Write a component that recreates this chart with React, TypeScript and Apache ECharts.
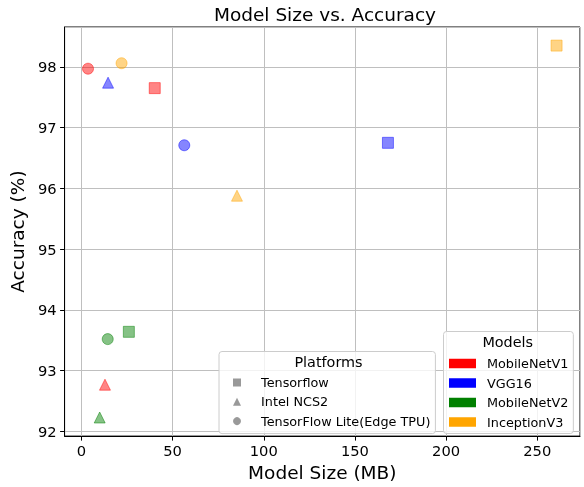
import React, { useEffect, useRef } from "react";
import * as echarts from "echarts";

const models = ["MobileNetV1", "VGG16", "MobileNetV2", "InceptionV3"];
const modelColors = ["255,0,0", "0,0,255", "0,128,0", "255,165,0"];
const modelLegendColors = ["#ff0000", "#0000ff", "#008000", "#ffa500"];
const platforms = ["Tensorflow", "Intel NCS2", "TensorFlow Lite(Edge TPU)"];
const platformSymbols = ["rect", "triangle", "circle"];

// [Tensorflow, Intel NCS2, TensorFlow Lite] per model
const sizeMB = [
  [40.2, 12.9, 3.6],
  [168.1, 14.6, 56.4],
  [26.0, 10.0, 14.4],
  [260.6, 85.3, 22.0],
];
const accuracy = [
  [97.65, 92.77, 97.97],
  [96.75, 97.74, 96.71],
  [93.64, 92.23, 93.52],
  [98.35, 95.88, 98.06],
];

const FONT = "DejaVu Sans";

export default function App() {
  const ref = useRef<HTMLDivElement>(null);
  useEffect(() => {
    if (!ref.current) return;
    const chart = echarts.init(ref.current, null, { renderer: "svg" });

    const modelSeries = models.map((m, i) => ({
      name: m,
      type: "scatter",
      symbolSize: 11,
      itemStyle: {
        color: `rgba(${modelColors[i]},0.6)`,
        borderColor: `rgba(${modelColors[i]},0.6)`,
        borderWidth: 1,
      },
      data: platforms.map((p, j) => ({
        value: [sizeMB[i][j], accuracy[i][j]],
        symbol: platformSymbols[j],
      })),
      z: 3,
    }));
    const platformSeries = platforms.map((p, j) => ({
      name: p,
      type: "scatter",
      symbol: platformSymbols[j],
      itemStyle: { color: "#808080" },
      data: [],
    }));

    chart.setOption({
      animation: false,
      textStyle: { fontFamily: FONT },
      title: {
        text: "Model Size vs. Accuracy",
        left: 320,
        textAlign: "center",
        top: 0,
        textStyle: { fontFamily: FONT, fontSize: 18.5, fontWeight: "normal", color: "#000" },
      },
      grid: {
        left: 61.5,
        right: 4,
        top: 27,
        bottom: 46.6,
        show: true,
        borderColor: "#000",
        borderWidth: 1,
        backgroundColor: "transparent",
      },
      xAxis: {
        type: "value",
        min: -9.25,
        max: 273.45,
        minInterval: 50,
        maxInterval: 50,
        name: "Model Size (MB)",
        nameLocation: "middle",
        nameGap: 22,
        nameTextStyle: { fontFamily: FONT, fontSize: 18.5, color: "#000" },
        axisLine: { onZero: false, lineStyle: { color: "#000", width: 1 } },
        axisTick: { show: true, length: 4.5, lineStyle: { color: "#000" } },
        axisLabel: {
          showMinLabel: false,
          showMaxLabel: false,
          margin: 7,
          fontFamily: FONT,
          fontSize: 14.7,
          color: "#000",
        },
        splitLine: { show: true, lineStyle: { color: "#bfbfbf", width: 1 } },
      },
      yAxis: {
        type: "value",
        min: 91.924,
        max: 98.656,
        minInterval: 1,
        maxInterval: 1,
        name: "Accuracy (%)",
        nameLocation: "middle",
        nameGap: 24,
        nameTextStyle: { fontFamily: FONT, fontSize: 18.5, color: "#000" },
        axisLine: { show: true, onZero: false, lineStyle: { color: "#000", width: 1 } },
        axisTick: { show: true, length: 4.5, lineStyle: { color: "#000" } },
        axisLabel: {
          showMinLabel: false,
          showMaxLabel: false,
          margin: 8,
          fontFamily: FONT,
          fontSize: 14.7,
          color: "#000",
        },
        splitLine: { show: true, lineStyle: { color: "#bfbfbf", width: 1 } },
      },
      legend: [
        {
          orient: "vertical",
          left: 219,
          top: 351.5,
          padding: [24.5, 5, 6, 14],
          itemWidth: 8,
          itemHeight: 8,
          itemGap: 6.3,
          backgroundColor: "rgba(255,255,255,0.8)",
          borderColor: "#cccccc",
          borderWidth: 1,
          borderRadius: 3,
          selectedMode: false,
          textStyle: { fontFamily: FONT, fontSize: 12.8, color: "#000", padding: [0, 0, 0, 15] },
          data: platforms.map((p, j) => ({
            name: p,
            icon: platformSymbols[j],
            itemStyle: { color: "#808080", borderWidth: 0 },
          })),
        },
        {
          orient: "vertical",
          left: 443.5,
          top: 331.5,
          padding: [25.5, 5, 5, 5.5],
          itemWidth: 27,
          itemHeight: 9.5,
          itemGap: 6.5,
          backgroundColor: "rgba(255,255,255,0.8)",
          borderColor: "#cccccc",
          borderWidth: 1,
          borderRadius: 3,
          selectedMode: false,
          textStyle: { fontFamily: FONT, fontSize: 12.8, color: "#000", padding: [0, 0, 0, 6] },
          data: models.map((m, i) => ({
            name: m,
            icon: "rect",
            itemStyle: { color: modelLegendColors[i], opacity: 1, borderWidth: 0 },
          })),
        },
      ],
      graphic: [
        {
          type: "text",
          left: 328.4 - 34,
          top: 354.5,
          z: 100,
          style: { text: "Platforms", fontFamily: FONT, fontSize: 14.4, fill: "#000" },
        },
        {
          type: "text",
          left: 508.4 - 26,
          top: 335,
          z: 100,
          style: { text: "Models", fontFamily: FONT, fontSize: 14.4, fill: "#000" },
        },
      ],
      series: [...modelSeries, ...platformSeries],
    });
    return () => chart.dispose();
  }, []);
  return (
    <div
      ref={ref}
      style={{ position: "fixed", left: 0, top: 0, width: 584, height: 487 }}
    />
  );
}
